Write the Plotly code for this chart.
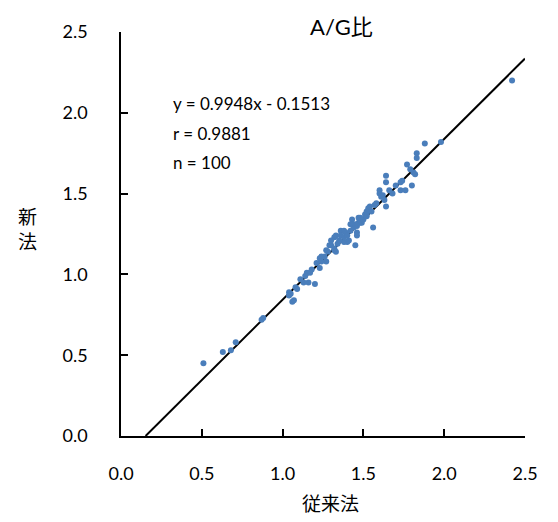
import plotly.graph_objects as go

# 従来法 (x) vs 新法 (y), A/G ratio
conventional = [
    0.51, 0.63, 0.68, 0.71, 0.87, 0.88, 1.04, 1.04, 1.06, 1.07,
    1.08, 1.09, 1.11, 1.15, 1.17, 1.16, 1.20, 1.21, 1.23, 1.23,
    1.24, 1.26, 1.27, 1.30, 1.32, 1.32, 1.32, 1.33, 1.33, 1.36,
    1.38, 1.38, 1.39, 1.40, 1.41, 1.43, 1.43, 1.45, 1.46, 1.46,
    1.47, 1.47, 1.48, 1.49, 1.50, 1.52, 1.52, 1.54, 1.53, 1.56,
    1.60, 1.60, 1.62, 1.63, 1.64, 1.64, 1.64, 1.68, 1.73, 1.73,
    1.76, 1.77, 1.80, 1.81, 1.82, 1.83, 1.83, 1.88, 1.98, 2.42,
    1.05, 1.13, 1.14, 1.18, 1.24, 1.27, 1.28, 1.29, 1.30, 1.34,
    1.35, 1.36, 1.38, 1.40, 1.42, 1.42, 1.44, 1.45, 1.46, 1.48,
    1.51, 1.52, 1.55, 1.57, 1.58, 1.61, 1.66, 1.70, 1.74, 1.79,
]
new_method = [
    0.45, 0.52, 0.53, 0.58, 0.72, 0.73, 0.89, 0.87, 0.83, 0.84,
    0.92, 0.91, 0.97, 1.01, 1.01, 0.95, 0.94, 1.07, 1.04, 1.10,
    1.11, 1.11, 1.08, 1.18, 1.23, 1.16, 1.15, 1.24, 1.14, 1.27,
    1.27, 1.20, 1.26, 1.20, 1.21, 1.34, 1.31, 1.18, 1.26, 1.24,
    1.35, 1.32, 1.32, 1.32, 1.34, 1.37, 1.36, 1.42, 1.41, 1.29,
    1.52, 1.50, 1.49, 1.46, 1.61, 1.57, 1.42, 1.50, 1.57, 1.52,
    1.52, 1.68, 1.55, 1.63, 1.62, 1.75, 1.72, 1.81, 1.82, 2.20,
    0.88, 0.95, 0.99, 1.03, 1.08, 1.15, 1.14, 1.18, 1.21, 1.19,
    1.21, 1.24, 1.23, 1.24, 1.31, 1.27, 1.29, 1.31, 1.30, 1.35,
    1.37, 1.39, 1.39, 1.43, 1.44, 1.48, 1.52, 1.55, 1.58, 1.65,
]

slope = 0.9948
intercept = -0.1513
r_value = 0.9881

axis_range = [0, 2.5]
tick_vals = [0.0, 0.5, 1.0, 1.5, 2.0, 2.5]
tick_text = ['0.0', '0.5', '1.0', '1.5', '2.0', '2.5']

font_family = 'Lato, "Noto Sans CJK JP", sans-serif'

# regression line from where it crosses y=0 to the right edge
x_start = -intercept / slope
x_end = axis_range[1]
fit_x = [x_start, x_end]
fit_y = [slope * x + intercept for x in fit_x]

fig = go.Figure()

fig.add_trace(go.Scatter(
    x=fit_x, y=fit_y,
    mode='lines',
    line=dict(color='black', width=2),
    showlegend=False,
    hoverinfo='skip'
))

fig.add_trace(go.Scatter(
    x=conventional, y=new_method,
    mode='markers',
    marker=dict(color='#4a7ebb', size=6),
    showlegend=False
))

axis_style = dict(
    range=axis_range,
    tickvals=tick_vals,
    ticktext=tick_text,
    showgrid=False,
    zeroline=False,
    showline=True,
    linecolor='black',
    linewidth=1.5,
    ticks='inside',
    ticklen=7,
    tickwidth=1.5,
    tickcolor='black',
    ticklabeloverflow='allow',
    tickfont=dict(size=18, color='black', family=font_family),
)

fig.update_xaxes(**axis_style, ticklabelstandoff=21)
fig.update_yaxes(**axis_style, ticklabelstandoff=28)

# title, axis titles and regression stats
annotations = [
    dict(text='A/G比', x=0.546, y=1.013, font=dict(size=22)),
    dict(text='従来法', x=0.519, y=-0.167, font=dict(size=19)),
    dict(text='新<br>法', x=-0.231, y=0.512, font=dict(size=19)),
    dict(text=f'y = {slope:.4f}x - {abs(intercept):.4f}', x=0.123, y=0.824,
         xanchor='left', font=dict(size=17)),
    dict(text=f'r = {r_value:.4f}', x=0.123, y=0.750, xanchor='left', font=dict(size=17)),
    dict(text=f'n = {len(conventional)}', x=0.123, y=0.676, xanchor='left', font=dict(size=17)),
]
for a in annotations:
    a.setdefault('xanchor', 'center')
    a['font'].update(color='black', family=font_family)
    fig.add_annotation(xref='paper', yref='paper', yanchor='middle',
                       showarrow=False, **a)

# page body adds an 8px margin all round, so keep the figure inside the window
fig.update_layout(
    width=542,
    height=506,
    margin=dict(l=113, r=13, t=24, b=78),
    plot_bgcolor='white',
    paper_bgcolor='white',
    showlegend=False,
)

fig.write_html("out.html", config={'displayModeBar': False})
